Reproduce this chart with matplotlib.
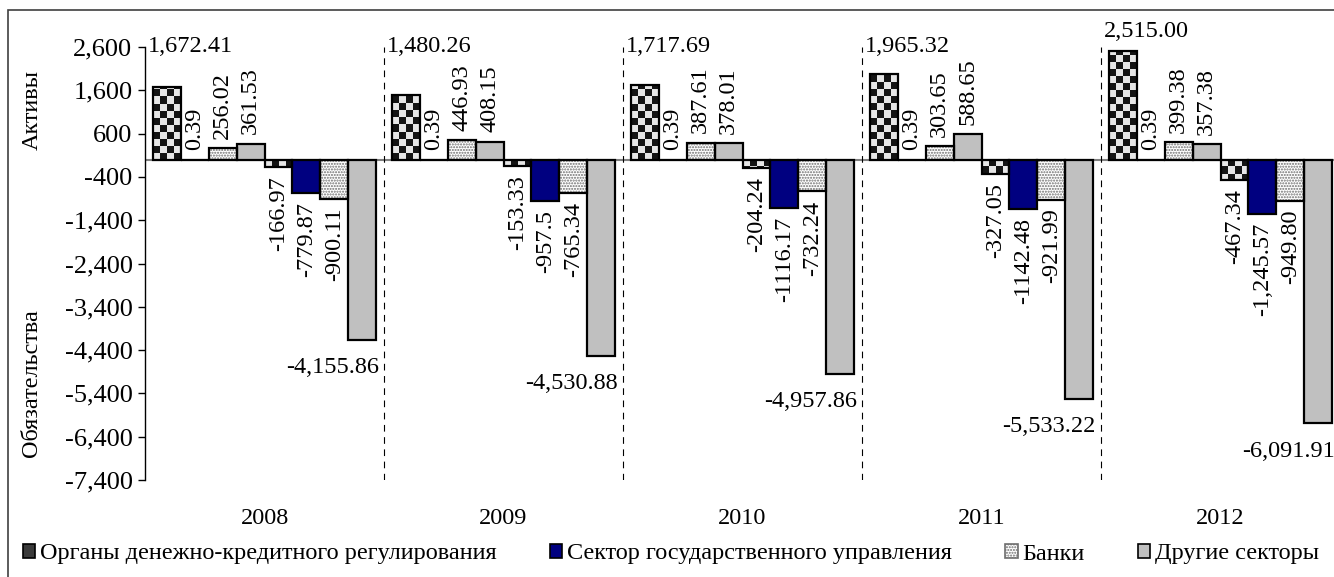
import math

import matplotlib
matplotlib.use("Agg")
import matplotlib.pyplot as plt
import numpy as np
from matplotlib.patches import Patch, Rectangle

plt.rcParams["font.family"] = ["Liberation Serif", "DejaVu Serif"]
plt.rcParams["font.size"] = 17.5
plt.rcParams["hatch.linewidth"] = 1.0

YEARS = ["2008", "2009", "2010", "2011", "2012"]
SECTORS = [
    "Органы денежно-кредитного регулирования",
    "Сектор государственного управления",
    "Банки",
    "Другие секторы",
]

# assets (positive) by sector
ODKR_ASSETS = [1672.41, 1480.26, 1717.69, 1965.32, 2515.00]
GOV_ASSETS = [0.39, 0.39, 0.39, 0.39, 0.39]
BANK_ASSETS = [256.02, 446.93, 387.61, 303.65, 399.38]
OTHER_ASSETS = [361.53, 408.15, 378.01, 588.65, 357.38]

# liabilities (negative) by sector
ODKR_LIAB = [-166.97, -153.33, -204.24, -327.05, -467.34]
GOV_LIAB = [-779.87, -957.5, -1116.17, -1142.48, -1245.57]
BANK_LIAB = [-900.11, -765.34, -732.24, -921.99, -949.80]
OTHER_LIAB = [-4155.86, -4530.88, -4957.86, -5533.22, -6091.91]

# labels as printed in the source (formatting is not uniform)
GOV_LIAB_LABELS = ["-779.87", "-957.5", "-1116.17", "-1142.48", "-1,245.57"]

Y_TICKS = list(range(2600, -7401, -1000))

NAVY = "#000080"
GREY = "#c0c0c0"
DOT = "#6e6e6e"

W, H = 1334, 577
fig = plt.figure(figsize=(W / 100, H / 100), dpi=100)
ax = fig.add_axes([145 / W, 1 - 480 / H, 1195 / W, 433 / H])
ax.set_xlim(-0.5, 4.5)
ax.set_ylim(-7400, 2600)

bw = 0.117
series = [
    (ODKR_ASSETS, "checker"), (GOV_ASSETS, NAVY), (BANK_ASSETS, "dots"), (OTHER_ASSETS, GREY),
    (ODKR_LIAB, "checker"), (GOV_LIAB, NAVY), (BANK_LIAB, "dots"), (OTHER_LIAB, GREY),
]
x = np.arange(len(YEARS))
offsets = (np.arange(8) - 3.5) * bw

# checker cell size (about 7 px) in data units
ncols = 4
cell_h = 7.0 * 10000 / 433

ax.axhline(0, color="#808080", lw=1.5, zorder=1)

for (vals, style), off in zip(series, offsets):
    xs = x + off
    if style == "checker":
        bars = ax.bar(xs, vals, bw, color="white", edgecolor="none", zorder=2)
        for b, v in zip(bars, vals):
            nrows = max(1, math.ceil(abs(v) / cell_h))
            board = (np.indices((nrows, ncols)).sum(axis=0) % 2).astype(float)
            x0 = b.get_x()
            top = nrows * cell_h if v > 0 else 0
            bot = 0 if v > 0 else -nrows * cell_h
            im = ax.imshow(board, extent=(x0, x0 + bw, bot, top), cmap="gray_r",
                           vmin=-0.12, vmax=1.1, interpolation="nearest",
                           aspect="auto", zorder=2.5)
            im.set_clip_path(b)
    elif style == "dots":
        ax.bar(xs, vals, bw, color="white", edgecolor=DOT, hatch="......", lw=0, zorder=2)
    else:
        ax.bar(xs, vals, bw, color=style, edgecolor="none", zorder=2)
    ax.bar(xs, vals, bw, fill=False, edgecolor="black", lw=1.6, zorder=3)

ax.set_xlim(-0.5, 4.5)
ax.set_ylim(-7400, 2600)

# data labels
for i in range(len(YEARS)):
    ax.text(x[i] + offsets[0] - bw / 2 - 0.02, max(ODKR_ASSETS[i] + 450, 2620),
            f"{ODKR_ASSETS[i]:,.2f}", ha="left", va="center")
    for k, vals in ((1, GOV_ASSETS), (2, BANK_ASSETS), (3, OTHER_ASSETS)):
        ax.text(x[i] + offsets[k], vals[i] + 220, f"{vals[i]:,.2f}",
                rotation=90, ha="center", va="bottom")
    for k, vals, lab in ((4, ODKR_LIAB, f"{ODKR_LIAB[i]:,.2f}"),
                         (5, GOV_LIAB, GOV_LIAB_LABELS[i]),
                         (6, BANK_LIAB, f"{BANK_LIAB[i]:,.2f}")):
        ax.text(x[i] + offsets[k], vals[i] - 210, lab,
                rotation=90, ha="center", va="top")
    ax.text(x[i] + offsets[7] + bw / 2 + 0.01, OTHER_LIAB[i] - 640,
            f"{OTHER_LIAB[i]:,.2f}", ha="right", va="center")

for sep in x[:-1] + 0.5:
    ax.axvline(sep, color="black", lw=0.8, ls=(0, (6, 5)), zorder=1)

ax.set_yticks(Y_TICKS)
ax.set_yticklabels([f"{t:,}" for t in Y_TICKS])
ax.set_xticks(x)
ax.set_xticklabels(YEARS)
ax.tick_params(axis="x", length=0, pad=20)
ax.tick_params(axis="y", direction="out", length=5, width=1, pad=4, labelsize=19)
for side in ("top", "right", "bottom"):
    ax.spines[side].set_visible(False)
ax.spines["left"].set_linewidth(1.0)

fig.text(32 / W, 1 - 110 / H, "Активы", rotation=90, ha="center", va="center")
fig.text(32 / W, 1 - 383 / H, "Обязательства", rotation=90, ha="center", va="center")

handles = [
    Patch(facecolor="#3a3a3a", edgecolor="black", lw=1.2),
    Patch(facecolor=NAVY, edgecolor="black", lw=1.2),
    Patch(facecolor="white", edgecolor=DOT, hatch="......", lw=1.2),
    Patch(facecolor=GREY, edgecolor="black", lw=1.2),
]
fig.legend(handles, SECTORS, loc="center", bbox_to_anchor=(0.5 + 4 / W, 1 - 554 / H), ncol=4,
           frameon=False, fontsize=17.5, handlelength=0.5, handleheight=0.5,
           handletextpad=0.2, columnspacing=2.2, borderaxespad=0)

fig.add_artist(Rectangle((8 / W, -0.05), 1.1, 1 - 10 / H + 0.05, transform=fig.transFigure,
                         fill=False, edgecolor="#404040", lw=1.2))

fig.savefig("out.png", dpi=100)
